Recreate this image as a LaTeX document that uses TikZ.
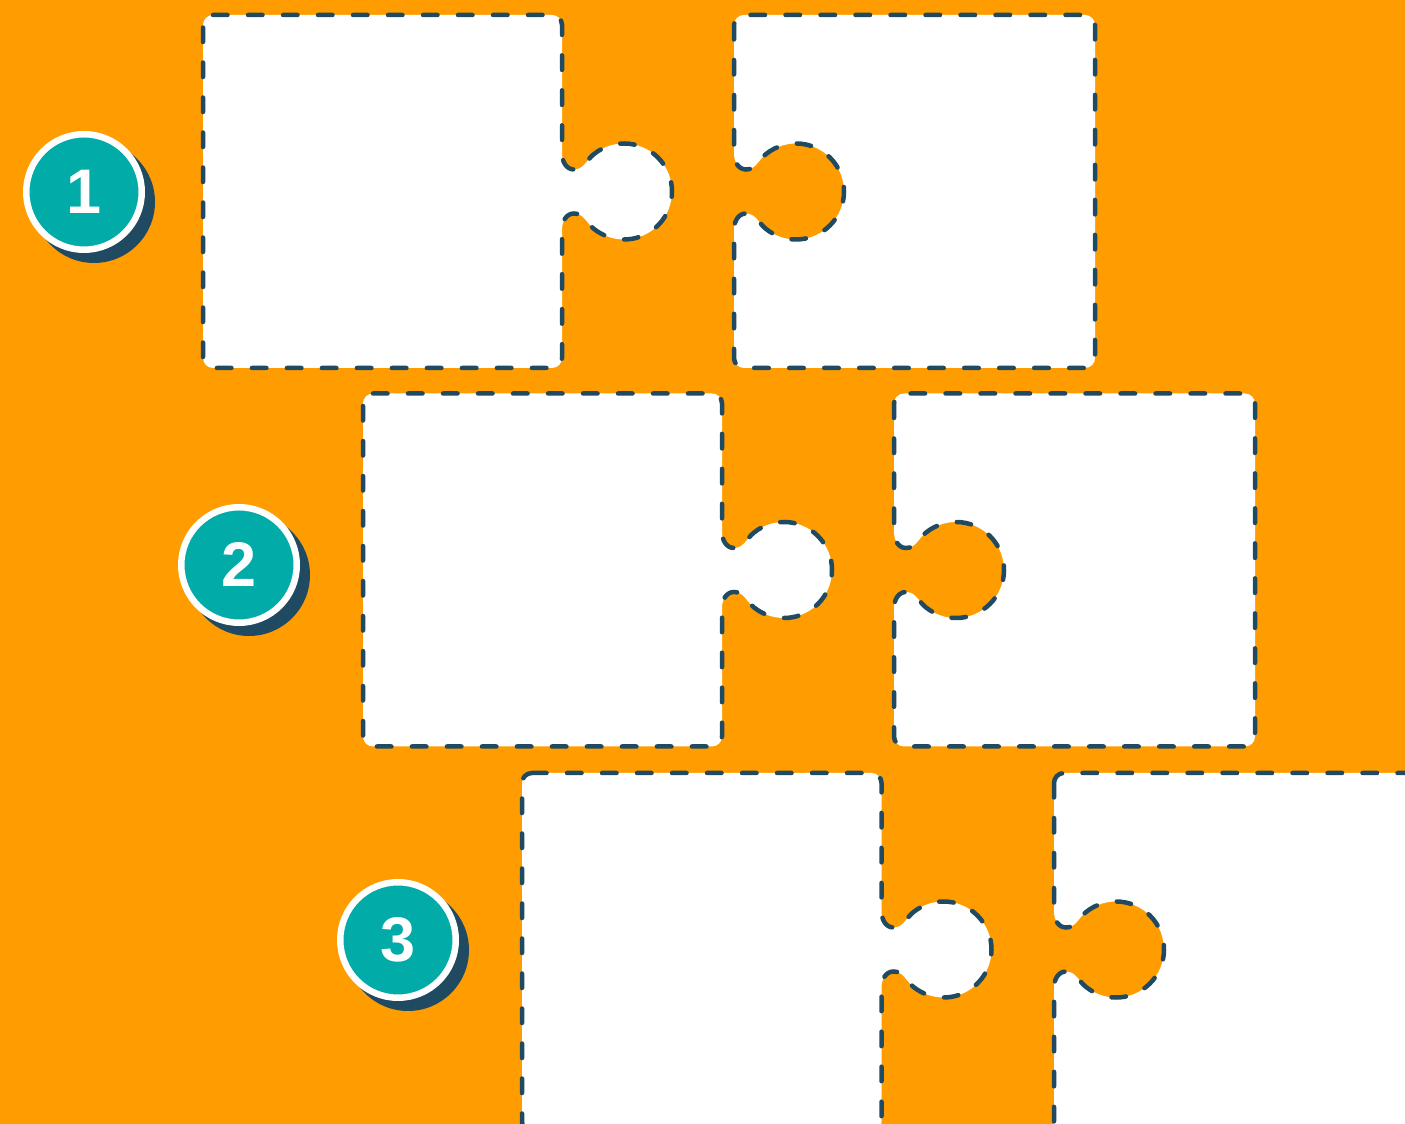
\documentclass[tikz,border=0pt]{standalone}
\usepackage{fontspec}
\setmainfont{Liberation Sans}
\definecolor{bgorange}{HTML}{FF9C00}
\definecolor{tealfill}{HTML}{00ABA8}
\definecolor{navyline}{HTML}{1F4A62}
\newcommand{\tabdown}[2]{to[out=-90,in=180] ({#1+12},{#2+22}) to[out=0,in=219] ({#1+31.79},{#2+37.30}) arc[start angle=129,end angle=-129,radius=48] to[out=141,in=0] ({#1+12},{#2-22}) to[out=180,in=90] ({#1},{#2-38})}
\newcommand{\leftpiece}[5]{\filldraw[piece] ({#1+10},#3) -- ({#2-10},#3) arc[start angle=90,end angle=0,radius=10] -- (#2,{#5+38}) \tabdown{#2}{#5} -- (#2,{#4+10}) arc[start angle=0,end angle=-90,radius=10] -- ({#1+10},#4) arc[start angle=270,end angle=180,radius=10] -- (#1,{#3-10}) arc[start angle=180,end angle=90,radius=10] -- cycle;}
\newcommand{\rightpiece}[5]{\filldraw[piece] (#1,{#3-10}) -- (#1,{#5+38}) \tabdown{#1}{#5} -- (#1,{#4+10}) arc[start angle=180,end angle=270,radius=10] -- ({#2-10},#4) arc[start angle=270,end angle=360,radius=10] -- (#2,{#3-10}) arc[start angle=0,end angle=90,radius=10] -- ({#1+10},#3) arc[start angle=90,end angle=180,radius=10] -- cycle;}
\tikzset{
  piece/.style={fill=white, draw=navyline, line width=4.5pt, line cap=round, dash pattern=on 14.5pt off 20.5pt},
  badge/.style={circle, fill=tealfill, draw=white, line width=6.5pt, minimum size=115.5pt, inner sep=0pt, text=white, font=\fontsize{63}{63}\selectfont\bfseries},
  badgeshadow/.style={fill=navyline}
}
\begin{document}
\begin{tikzpicture}[x=1pt,y=1pt]
\useasboundingbox (0,0) rectangle (1405,1124);
\clip (0,0) rectangle (1405,1124);
\fill[bgorange] (0,0) rectangle (1405,1124);
% row 1
\leftpiece{203}{562}{1109}{756}{932.5}
\rightpiece{734}{1095}{1109}{756}{932.5}
% row 2
\leftpiece{363}{722}{730.5}{377.5}{554}
\rightpiece{894}{1255}{730.5}{377.5}{554}
% row 3
\leftpiece{522}{881.5}{351}{-8}{174.5}
\rightpiece{1054}{1415}{351}{-8}{174.5}
% badges
\coordinate (c1) at (84,932);
\coordinate (c2) at (239,559);
\coordinate (c3) at (398,184);
\fill[badgeshadow] ([shift={(10,-10)}]c1) circle[radius=61];
\fill[badgeshadow] ([shift={(10,-10)}]c2) circle[radius=61];
\fill[badgeshadow] ([shift={(10,-10)}]c3) circle[radius=61];
\node[badge] (b1) at (c1) {1};
\node[badge] (b2) at (c2) {2};
\node[badge] (b3) at (c3) {3};
\end{tikzpicture}
\end{document}
